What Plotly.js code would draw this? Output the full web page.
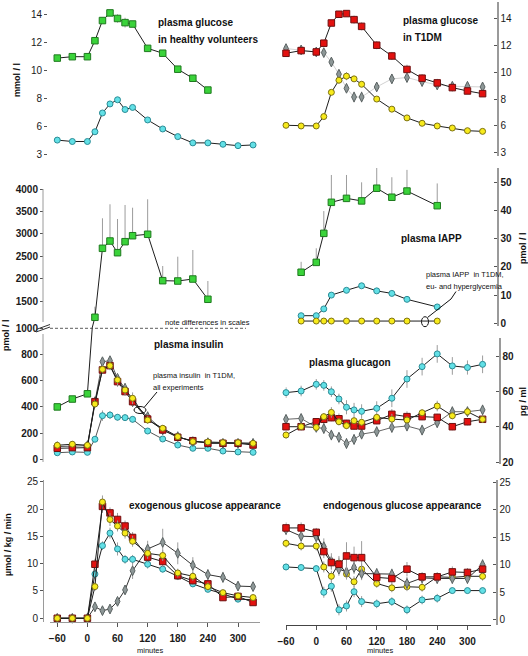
<!DOCTYPE html>
<html><head><meta charset="utf-8">
<script src="https://cdn.plot.ly/plotly-3.0.1.min.js"></script>
<style>html,body{margin:0;padding:0;background:#fff}#chart{width:528px;height:656px}</style>
</head><body><div id="chart"></div>
<script>
const W = 528, H = 656;
const FONT = 'Liberation Sans, Arial, sans-serif';

// ---------- time points (minutes) ----------
const minutes = [-60,-30,0,15,30,45,60,75,90,120,150,180,210,240,270,300,330];
const minutesHealthy = [-60,-30,0,15,30,45,60,75,90,120,150,180,210,240];
const minutesIAPP = [-30,0,15,30,60,90,120,150,180,240];
const xTickVals = [-60,0,60,120,180,240,300];

// ---------- plasma glucose (mmol/l) ----------
const glucHealthyGreen = [10.9,11.0,11.0,12.15,13.6,14.15,13.75,13.45,13.35,11.6,11.25,10.1,9.45,8.6];
const glucHealthyGreenErr = [0,0,0,0,0,0,0.3,0.35,0,0,0,0,0,0];
const glucHealthyCyan = [5.0,4.9,4.9,5.6,6.95,7.6,7.9,7.2,7.35,6.45,5.8,5.25,4.8,4.8,4.7,4.6,4.65];
const glucT1Red = [11.4,11.6,11.5,12.15,13.65,14.3,14.35,13.9,13.4,12.0,11.2,10.2,9.55,9.2,8.85,8.6,8.4];
const glucT1RedErr = [0.2,0,0,0,0,0,0,0.3,0.3,0.3,0.3,0.35,0.3,0.3,0.25,0,0];
const glucT1Gray = [11.75,11.65,11.5,11.45,10.75,9.85,8.8,8.15,8.15,8.9,9.5,9.6,9.3,9.05,8.95,8.95,8.9];
const glucT1GrayErr = [0.2,0.2,0.2,0.2,0.2,0.3,0.3,0.4,0.4,0.3,0.35,0.35,0.35,0.35,0.35,0.2,0.2];
const glucT1Yellow = [6.05,6.0,6.0,6.7,8.5,9.4,9.7,9.5,9.1,8.0,7.25,6.6,6.2,6.0,5.85,5.65,5.6];
const glucT1YellowErr = [0,0,0,0,0,0.25,0.3,0.2,0,0,0,0,0,0,0,0,0];
const glucTickVals = [4,6,8,10,12,14];
const glucTickText = ['3','6','8','10','12','14'];

// ---------- plasma IAPP (pmol/l) ----------
const iappGreen = [18.1,21.6,31.9,42.9,44.3,43.4,47.9,44.7,46.9,41.7];
const iappGreenErrUp = [3.7,5,7.9,9.7,8.3,6.6,7.6,7.1,7.5,7.9];
const iappCyan = [2.7,2.7,5.1,10.0,11.7,13.3,11.5,10.6,8.5,5.8];
const iappT1 = [0.8,0.8,0.8,0.8,0.8,0.8,0.8,0.8,0.8,0.8];

// ---------- plasma insulin (pmol/l) ----------
const insHealthyGreen = [400,460,500,1144,2680,2842,2582,2827,2960,2992,1959,1952,1996,1545];
const insHealthyGreenErrUp = [0,0,0,236,668,818,750,817,624,779,327,541,646,407];
const insRed = [84,89,89,440,682,715,593,517,440,307,224,168,142,122,122,122,109];
const insRedErr = [0,0,0,30,30,30,40,30,30,30,20,15,10,10,10,10,10];
const insYellow = [107,115,107,422,687,715,606,529,466,300,237,173,135,132,127,127,122];
const insYellowErr = [0,0,0,30,30,35,40,40,45,30,20,15,10,10,10,10,10];
const insGray = [97,102,104,440,745,753,618,542,440,325,224,173,135,127,122,122,122];
const insGrayErr = [10,10,10,30,25,25,30,40,40,40,25,15,10,10,10,10,10];
const insCyan = [50,56,53,153,333,338,321,318,305,216,155,109,84,84,63,56,53];
const insCyanErr = [5,5,5,20,40,30,25,25,25,15,15,10,10,5,5,5,5];

// ---------- plasma glucagon (pg/ml) ----------
const glgCyan = [59.3,60.2,64.0,63.4,59.8,55.7,51.0,49.5,48.7,50.4,56.1,67.0,74.0,81.2,74.4,73.5,75.3];
const glgCyanErr = [3,3,3,3,3,3,4,4,4,4,5,5,5,5,5,4,5];
const glgRed = [40,40,42.8,44.2,45.1,44.5,41.9,40.4,40.4,43.4,47.0,45.7,45.7,45.3,40,42.8,44.2];
const glgRedErr = [2,2,2,2,2,3,2,2,2,2,3,3,2,2,2,2,2];
const glgYellow = [35.3,40,39.6,45.7,48.1,42.8,40.6,43.4,42.5,45.3,44.3,43.8,47.9,51.7,46.2,48.5,44.2];
const glgYellowErr = [2,2,2,2,3,2,2,2,2,2,3,2,2,3,2,2,2];
const glgGray = [44.2,44.7,39.6,39.0,35.3,34.0,30.5,32.8,35.8,37.2,39.6,40.4,38.1,42.3,48.5,48.5,49.5];
const glgGrayErr = [2,2,2,3,3,3,3,3,3,3,3,3,3,3,3,3,3];

// ---------- exogenous glucose appearance (µmol/kg/min) ----------
const exoRed = [0,0,0,9.9,20.5,19.3,18.1,16.9,14.8,11.2,10.4,7.8,6.9,6.3,3.8,4.0,2.9];
const exoRedErr = [0,0,0,1,1.2,1,1.2,1,1,1,1,0.8,0.8,0.8,0.6,0.5,0.5];
const exoYellow = [0,0,0,5.8,21.3,18.1,16.9,15.6,14.1,11.9,11.5,8.3,7.7,5.8,4.7,4.1,3.8];
const exoYellowErr = [0,0,0,0.8,1.2,1.2,1,1,1,1,1,0.8,0.8,0.8,0.5,0.5,0.5];
const exoCyan = [0,0,0,8.1,13.3,15.6,12.7,10.8,10.8,9.9,9.0,7.7,6.3,5.3,4.5,3.5,3.4];
const exoCyanErr = [0,0,0,0.8,0.8,1,1.2,0.8,0.8,0.8,0.6,0.6,0.6,0.5,0.5,0.5,0.5];
const exoGray = [0,0,0,2.1,1.4,1.7,3.1,5.2,8.7,12.7,13.9,11.9,9.7,8.0,7.5,5.9,5.8];
const exoGrayErr = [0,0,0,0.5,0.3,0.3,0.6,0.8,1.5,1.5,2.5,2,1.5,1,1,0.8,0.8];

// ---------- endogenous glucose appearance (µmol/kg/min) ----------
const endoRed = [16.7,16.7,15.9,12.4,10.4,10.1,11.6,11.3,11.3,7.7,7.5,9.2,7.8,7.8,8.7,8.6,9.2];
const endoRedErr = [1,1,0.8,1.2,1.2,1.5,2.5,2,3,1,1,1.3,0.8,0.8,1,0.8,0.8];
const endoGray = [16.4,15.2,15.1,13.3,10.6,9.2,8.7,9.5,8.4,8.4,8.3,6.6,7.6,7.5,7.5,7.5,10.0];
const endoGrayErr = [1,1,1,1.5,1.5,1.2,1.2,1.2,1.2,1,1,1.2,1,1,1,1,1];
const endoYellow = [13.9,13.4,13.4,9.6,7.9,10.3,8.3,6.9,9.2,6.6,5.8,6.0,5.9,7.8,7.7,7.9,7.9];
const endoYellowErr = [0.8,0.8,0.8,1,1,1,1,1,1,0.8,0.8,0.8,0.8,0.8,0.8,0.8,0.8];
const endoCyan = [9.6,9.5,9.3,5.0,6.1,1.8,2.5,5.1,3.3,2.9,3.3,1.8,3.6,3.9,5.3,5.3,5.3];
const endoCyanErr = [0.6,0.6,0.6,1,1,1,1,1,1,0.8,0.8,0.8,0.8,0.8,0.5,0.5,0.5];

// ---------- styles ----------
const ST = {
  green:  {symbol:'square',       size:6.5, color:'#3ad33a', edge:'#1f7a1f'},
  red:    {symbol:'square',       size:6.5, color:'#e3110f', edge:'#6e1010'},
  yellow: {symbol:'circle',       size:6,   color:'#f7ea1b', edge:'#7d7212'},
  cyan:   {symbol:'circle',       size:6,   color:'#62e0e6', edge:'#2b8c96'},
  gray:   {symbol:'diamond-tall', size:7,   color:'#8d9797', edge:'#5a6262'}
};

function series(x, y, xa, ya, st, opt) {
  opt = opt || {};
  const t = {
    type:'scatter', mode:'lines+markers', x:x, y:y, xaxis:xa, yaxis:ya,
    line:{color: opt.lineColor || '#1e1e1e', width: 1},
    marker:{symbol: st.symbol, size: st.size, color: st.color, line:{color: st.edge, width: 1}},
    cliponaxis: !!opt.clip, hoverinfo:'skip'
  };
  if (opt.err) {
    t.error_y = {type:'data', symmetric:false, array: opt.err, arrayminus: opt.errMinus || opt.err,
                 color:'#9c9c9c', thickness:1, width:0};
  }
  return t;
}
const zeros = a => a.map(() => 0);

const traces = [
  series(minutesHealthy, glucHealthyGreen, 'x', 'y', ST.green, {err: glucHealthyGreenErr}),
  series(minutes, glucHealthyCyan, 'x', 'y', ST.cyan),
  series(minutes, glucT1Gray, 'x2', 'y2', ST.gray, {lineColor:'#d2d2d2', err: glucT1GrayErr}),
  series(minutes, glucT1Yellow, 'x2', 'y2', ST.yellow, {err: glucT1YellowErr}),
  series(minutes, glucT1Red, 'x2', 'y2', ST.red, {err: glucT1RedErr}),
  series(minutesIAPP, iappGreen, 'x3', 'y3', ST.green, {err: iappGreenErrUp, errMinus: zeros(iappGreenErrUp)}),
  series(minutesIAPP, iappCyan, 'x3', 'y3', ST.cyan),
  series(minutesIAPP, iappT1, 'x3', 'y3', ST.yellow),
  series(minutesHealthy, insHealthyGreen, 'x4', 'y4', ST.green, {clip:true, err: insHealthyGreenErrUp, errMinus: zeros(insHealthyGreenErrUp)}),
  series(minutesHealthy, insHealthyGreen, 'x5', 'y5', ST.green, {clip:true}),
  series(minutes, insCyan, 'x5', 'y5', ST.cyan, {lineColor:'#555', err: insCyanErr}),
  series(minutes, insGray, 'x5', 'y5', ST.gray, {lineColor:'#555', err: insGrayErr}),
  series(minutes, insRed, 'x5', 'y5', ST.red, {err: insRedErr}),
  series(minutes, insYellow, 'x5', 'y5', ST.yellow, {err: insYellowErr}),
  series(minutes, glgGray, 'x6', 'y6', ST.gray, {lineColor:'#666', err: glgGrayErr}),
  series(minutes, glgCyan, 'x6', 'y6', ST.cyan, {err: glgCyanErr}),
  series(minutes, glgRed, 'x6', 'y6', ST.red, {err: glgRedErr}),
  series(minutes, glgYellow, 'x6', 'y6', ST.yellow, {err: glgYellowErr}),
  series(minutes, exoGray, 'x7', 'y7', ST.gray, {lineColor:'#333', err: exoGrayErr}),
  series(minutes, exoCyan, 'x7', 'y7', ST.cyan, {err: exoCyanErr}),
  series(minutes, exoRed, 'x7', 'y7', ST.red, {err: exoRedErr}),
  series(minutes, exoYellow, 'x7', 'y7', ST.yellow, {err: exoYellowErr}),
  series(minutes, endoCyan, 'x8', 'y8', ST.cyan, {err: endoCyanErr}),
  series(minutes, endoYellow, 'x8', 'y8', ST.yellow, {err: endoYellowErr}),
  series(minutes, endoGray, 'x8', 'y8', ST.gray, {lineColor:'#333', err: endoGrayErr}),
  series(minutes, endoRed, 'x8', 'y8', ST.red, {err: endoRedErr})
];

// ---------- axes ----------
const LEFT_DOM = [50/W, 260/W], LEFT_RANGE = [-74.5, 343.8];
const RIGHT_DOM = [285.5/W, 491/W], RIGHT_RANGE = [-61.0, 346.7];

function xAxis(dom, range, anchor, shown) {
  const a = {domain: dom, range: range, anchor: anchor, fixedrange:true, showgrid:false, zeroline:false};
  if (!shown) { a.visible = false; return a; }
  return Object.assign(a, {
    showline:true, linecolor:'#8a8a8a', linewidth:1, ticks:'outside', ticklen:4, tickcolor:'#555',
    tickvals: xTickVals, ticklabelstandoff: 3,
    tickfont:{family:FONT, size:10, color:'#1a1a1a', weight:'bold'}
  });
}
function yAxis(top, bottom, range, pos, side, extra) {
  return Object.assign({
    domain:[1 - bottom/H, 1 - top/H], range: range, anchor:'free', position: pos/W, side: side,
    showgrid:false, zeroline:false, fixedrange:true,
    ticks: side === 'left' ? 'outside' : 'inside', ticklen:3, tickcolor:'#555',
    tickfont:{family:FONT, size:10, color:'#1a1a1a'}
  }, extra || {});
}
const rightLine = {showline:true, linecolor:'#9a9a9a', linewidth:1.5};
const bold = (s) => ({family:FONT, size:s, color:'#1a1a1a', weight:'bold'});

const layout = {
  width: W, height: H, margin:{l:0, r:0, t:0, b:0},
  paper_bgcolor:'#ffffff', plot_bgcolor:'rgba(0,0,0,0)', showlegend:false,
  xaxis:  xAxis(LEFT_DOM, LEFT_RANGE, 'y', false),
  xaxis2: xAxis(RIGHT_DOM, RIGHT_RANGE, 'y2', false),
  xaxis3: xAxis(RIGHT_DOM, RIGHT_RANGE, 'y3', false),
  xaxis4: xAxis(LEFT_DOM, LEFT_RANGE, 'y4', false),
  xaxis5: xAxis(LEFT_DOM, LEFT_RANGE, 'y5', false),
  xaxis6: xAxis(RIGHT_DOM, RIGHT_RANGE, 'y6', false),
  xaxis7: Object.assign(xAxis(LEFT_DOM, LEFT_RANGE, 'y7', true), {linecolor:'#9a9a9a'}),
  xaxis8: Object.assign(xAxis(RIGHT_DOM, RIGHT_RANGE, 'y8', true), {linecolor:'#444'}),
  yaxis:  yAxis(5, 160, [3.568, 14.719], 47, 'left', {tickvals: glucTickVals, ticktext: glucTickText, showline:false}),
  yaxis2: yAxis(2, 156, [3.77, 15.21], 497, 'right', Object.assign({tickvals: glucTickVals, ticktext: glucTickText}, rightLine)),
  yaxis3: yAxis(168, 326, [-0.957, 55.07], 497, 'right', Object.assign({tickvals:[0,10,20,30,40,50], tickfont: bold(10)}, rightLine)),
  yaxis4: yAxis(170, 328.3, [899, 4423], 43, 'left', {tickvals:[1500,2000,2500,3000,3500,4000], tickfont: bold(10), showline:false}),
  yaxis5: yAxis(328.3, 470, [-81.7, 1000], 43, 'left', {tickvals:[0,200,400,600,800,1000], tickfont: bold(10), showline:false}),
  yaxis6: yAxis(338, 464, [18.9, 90.2], 499, 'right', Object.assign({tickvals:[20,40,60,80], tickfont: bold(10)}, rightLine)),
  yaxis7: yAxis(480, 622, [-0.68, 25.33], 43, 'left', {tickvals:[0,5,10,15,20,25], showline:true, linecolor:'#9a9a9a', linewidth:1}),
  yaxis8: yAxis(480, 625, [-0.96, 25.42], 496, 'right', Object.assign({tickvals:[0,5,10,15,20,25]}, rightLine))
};

// ---------- annotations (text) ----------
function note(text, x, y, size, opts) {
  return Object.assign({text: text, xref:'paper', yref:'paper', x: x/W, y: 1 - y/H,
    xanchor:'left', yanchor:'middle', showarrow:false,
    font:{family:FONT, size:size, color:'#111111'}}, opts || {});
}
function vlabel(text, x, y, size) {
  return {text: '<b>' + text + '</b>', xref:'paper', yref:'paper', x: x/W, y: 1 - y/H,
    xanchor:'center', yanchor:'middle', showarrow:false, textangle:-90,
    font:{family:FONT, size:size, color:'#111111'}};
}
layout.annotations = [
  note('<b>plasma glucose</b>', 156, 22.7, 10),
  note('<b>in healthy volunteers</b>', 156, 39.3, 10),
  note('<b>plasma glucose</b>', 400.5, 20.7, 10),
  note('<b>in T1DM</b>', 400.5, 37.3, 10),
  note('<b>plasma IAPP</b>', 399, 239, 10),
  note('plasma IAPP  in T1DM,', 424, 274.3, 7.5),
  note('eu- and hyperglycemia', 424, 286.7, 7.5),
  note('note differences in scales', 162.5, 322, 7.5),
  note('<b>plasma insulin</b>', 151.5, 344.3, 10),
  note('plasma insulin  in T1DM,', 151, 376, 7.5),
  note('all experiments', 151, 387.7, 7.5),
  note('<b>plasma glucagon</b>', 307, 362.7, 10),
  note('<b>exogenous glucose appearance</b>', 127, 505.7, 10),
  note('<b>endogenous glucose appearance</b>', 320.5, 505.7, 10),
  note('minutes', 150.7, 650.5, 7.5, {xanchor:'center'}),
  note('minutes', 380.7, 650.5, 7.5, {xanchor:'center'}),
  vlabel('mmol / l', 17, 80, 9),
  vlabel('pmol / l', 6, 335, 9),
  vlabel('µmol / kg / min', 8, 545, 9),
  vlabel('pmol / l', 523, 248, 9),
  vlabel('pg / ml', 523, 402, 9)
];

// ---------- decorations (axis break, dashed scale line, call-out ellipses) ----------
function pl(x0, y0, x1, y1, color, width, dash) {
  return {type:'line', xref:'paper', yref:'paper', x0:x0/W, y0:1-y0/H, x1:x1/W, y1:1-y1/H,
    line:{color:color, width:width, dash:dash || 'solid'}};
}
function ell(cx, cy, rx, ry) {
  return {type:'circle', xref:'paper', yref:'paper', x0:(cx-rx)/W, x1:(cx+rx)/W, y0:1-(cy+ry)/H, y1:1-(cy-ry)/H,
    line:{color:'#111', width:1}};
}
layout.shapes = [
  pl(43, 189, 43, 322, '#9a9a9a', 1),
  pl(43, 334, 43, 462, '#9a9a9a', 1),
  pl(36, 329.5, 50, 324.5, '#333', 1),
  pl(36, 332, 50, 327, '#333', 1),
  pl(50, 328.3, 246, 328.3, '#333', 0.8, '3px,2px'),
  ell(140, 410, 6, 3.5),
  pl(144.5, 407, 157, 392, '#111', 1),
  ell(425, 321.7, 3.5, 5),
  pl(427.5, 317.5, 451, 299, '#111', 1),
  pl(451, 299, 456, 291.5, '#111', 1)
];

Plotly.newPlot('chart', traces, layout, {staticPlot:true, displayModeBar:false});
</script>
</body></html>
